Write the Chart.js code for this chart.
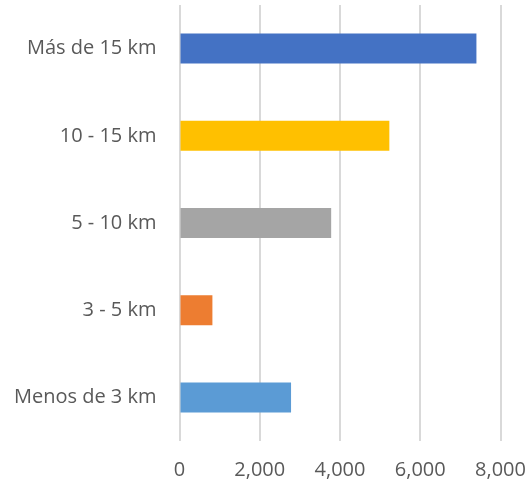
<!DOCTYPE html>
<html>
<head>
<meta charset="utf-8">
<script src="https://cdn.jsdelivr.net/npm/chart.js@4"></script>
<style>
  html, body { margin: 0; padding: 0; background: #fff; }
  #wrap { width: 529px; height: 482px; }
</style>
</head>
<body>
<div id="wrap"><canvas id="chart" width="529" height="482"></canvas></div>
<script>
// --- data ---
const categories = ['Más de 15 km', '10 - 15 km', '5 - 10 km', '3 - 5 km', 'Menos de 3 km'];
const values = [7400, 5230, 3780, 820, 2780];
const barColors = ['#4472C4', '#FFC000', '#A5A5A5', '#ED7D31', '#5B9BD5'];
const xTicks = [0, 2000, 4000, 6000, 8000];

const labelFont = { family: '"Open Sans", Lato, sans-serif', size: 20 };

new Chart(document.getElementById('chart'), {
    type: 'bar',
    data: {
        labels: categories,
        datasets: [{ data: values, backgroundColor: barColors, borderWidth: 0, barPercentage: 0.344, categoryPercentage: 1 }]
    },
    options: {
        indexAxis: 'y',
        responsive: false,
        animation: false,
        layout: { padding: { top: 5, right: 28.5, left: 0, bottom: 0 } },
        plugins: { legend: { display: false }, tooltip: { enabled: false } },
        scales: {
            x: {
                min: 0, max: 8000,
                afterBuildTicks: s => { s.ticks = xTicks.map(v => ({ value: v })); },
                afterFit: s => { s.height = 41; s.paddingLeft = 0; s.paddingRight = 0; },
                grid: { color: '#d9d9d9', lineWidth: 2, drawTicks: false },
                border: { display: false },
                ticks: { color: '#595959', font: labelFont, padding: 17, maxRotation: 0,
                         callback: v => v.toLocaleString('en-US') }
            },
            y: {
                afterFit: s => { s.width = 179.5; s.paddingTop = 0; s.paddingBottom = 0; },
                grid: { display: false, drawTicks: false },
                border: { display: false },
                ticks: { color: '#595959', font: labelFont, padding: 23 }
            }
        }
    }
});
</script>
</body>
</html>
